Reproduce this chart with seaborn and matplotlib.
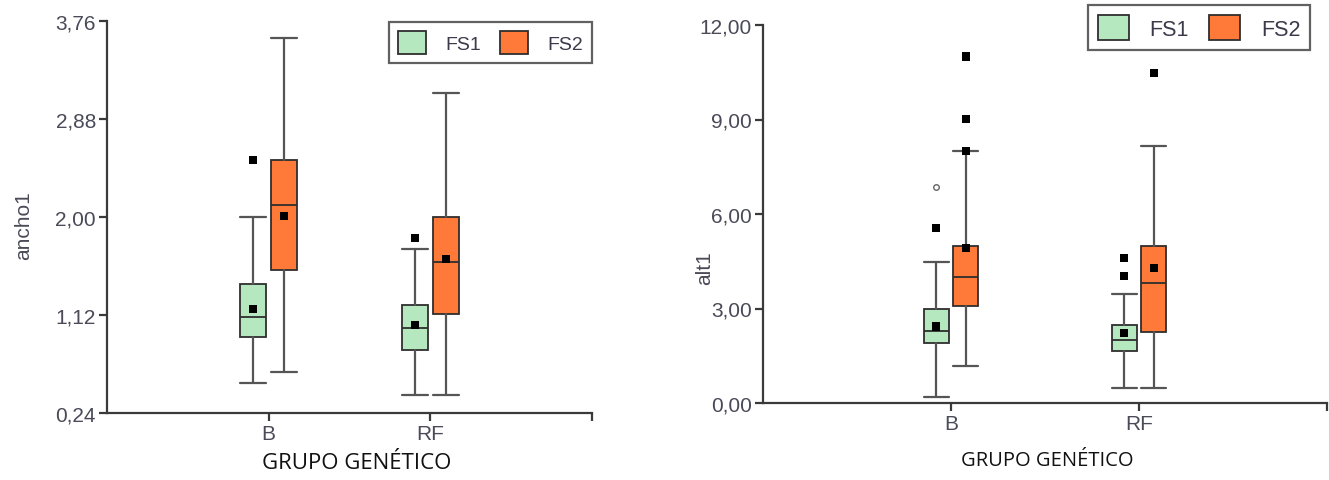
import matplotlib
matplotlib.use("Agg")
import matplotlib.pyplot as plt
from matplotlib.patches import Patch
from matplotlib.ticker import FuncFormatter
import seaborn as sns
import pandas as pd

# ---------------- data ----------------
groups = ["B", "RF"]
series = ["FS1", "FS2"]

ancho1_lo = {"FS1": [0.51, 0.40], "FS2": [0.61, 0.40]}
ancho1_q1 = {"FS1": [0.92, 0.81], "FS2": [1.52, 1.13]}
ancho1_med = {"FS1": [1.10, 1.00], "FS2": [2.11, 1.60]}
ancho1_q3 = {"FS1": [1.40, 1.21], "FS2": [2.51, 2.00]}
ancho1_hi = {"FS1": [2.00, 1.71], "FS2": [3.61, 3.11]}
ancho1_mean = {"FS1": [1.17, 1.03], "FS2": [2.01, 1.62]}
ancho1_out = {"FS1": [[2.51], [1.81]], "FS2": [[], []]}
ancho1_far = {"FS1": [[], []], "FS2": [[], []]}
ancho1_ticks = [0.24, 1.12, 2.00, 2.88, 3.76]

alt1_lo = {"FS1": [0.18, 0.48], "FS2": [1.18, 0.48]}
alt1_q1 = {"FS1": [1.89, 1.65], "FS2": [3.07, 2.24]}
alt1_med = {"FS1": [2.30, 2.00], "FS2": [4.01, 3.82]}
alt1_q3 = {"FS1": [2.99, 2.48], "FS2": [4.99, 4.99]}
alt1_hi = {"FS1": [4.47, 3.47], "FS2": [8.00, 8.17]}
alt1_mean = {"FS1": [2.43, 2.21], "FS2": [4.91, 4.28]}
alt1_out = {"FS1": [[5.56], [4.61, 4.03]], "FS2": [[11.00, 9.02, 8.00], [10.48]]}
alt1_far = {"FS1": [[6.85], []], "FS2": [[], []]}
alt1_ticks = [0.0, 3.0, 6.0, 9.0, 12.0]

colors = {"FS1": "#B6E8BF", "FS2": "#FF7A38"}
edge = "#2e2e2e"
tick_color = "#4a4a58"

sns.set_style("white")
plt.rcParams["font.family"] = ["Liberation Sans", "DejaVu Sans"]

fig = plt.figure(figsize=(13.29, 4.81), dpi=100)
axL = fig.add_axes([107 / 1329, 67 / 481, 485 / 1329, 392 / 481])
axR = fig.add_axes([763 / 1329, 77 / 481, 564 / 1329, 378 / 481])


def draw_panel(ax, lo, q1, med, q3, hi, mean, out, far, offset, width):
    stats, pos, cols = [], [], []
    mean_rows, out_rows, far_rows = [], [], []
    for si, s in enumerate(series):
        sign = -1 if si == 0 else 1
        for gi, g in enumerate(groups):
            x = gi + sign * offset
            stats.append(dict(whislo=lo[s][gi], q1=q1[s][gi], med=med[s][gi],
                              q3=q3[s][gi], whishi=hi[s][gi], fliers=[]))
            pos.append(x)
            cols.append(colors[s])
            mean_rows.append({"x": x, "y": mean[s][gi]})
            for v in out[s][gi]:
                out_rows.append({"x": x, "y": v})
            for v in far[s][gi]:
                far_rows.append({"x": x, "y": v})
    bp = ax.bxp(stats, positions=pos, widths=width, patch_artist=True,
                showfliers=False, manage_ticks=False,
                boxprops=dict(edgecolor=edge, linewidth=1.3),
                medianprops=dict(color=edge, linewidth=1.3),
                whiskerprops=dict(color="#555555", linewidth=1.6),
                capprops=dict(color="#555555", linewidth=1.6),
                capwidths=width)
    for patch, c in zip(bp["boxes"], cols):
        patch.set_facecolor(c)
    sns.scatterplot(data=pd.DataFrame(mean_rows), x="x", y="y", ax=ax,
                    marker="s", s=34, color="black", edgecolor="none", zorder=5)
    if out_rows:
        sns.scatterplot(data=pd.DataFrame(out_rows), x="x", y="y", ax=ax,
                        marker="s", s=34, color="black", edgecolor="none", zorder=5)
    if far_rows:
        sns.scatterplot(data=pd.DataFrame(far_rows), x="x", y="y", ax=ax,
                        marker="o", s=16, facecolor="white", edgecolor="#666666",
                        linewidth=1.0, zorder=5)


draw_panel(axL, ancho1_lo, ancho1_q1, ancho1_med, ancho1_q3, ancho1_hi,
           ancho1_mean, ancho1_out, ancho1_far, offset=0.095, width=0.161)
draw_panel(axR, alt1_lo, alt1_q1, alt1_med, alt1_q3, alt1_hi,
           alt1_mean, alt1_out, alt1_far, offset=0.078, width=0.132)

fmt = FuncFormatter(lambda v, p: f"{v:.2f}".replace(".", ","))
for ax, ticks, label in [(axL, ancho1_ticks, "ancho1"), (axR, alt1_ticks, "alt1")]:
    ax.set_xlim(-1, 2)
    ax.set_ylim(ticks[0], ticks[-1])
    ax.set_yticks(ticks)
    ax.yaxis.set_major_formatter(fmt)
    ax.set_xticks([0, 1, 2])
    ax.set_xticklabels(groups + [""])
    for side in ["top", "right"]:
        ax.spines[side].set_visible(False)
    for side in ["left", "bottom"]:
        ax.spines[side].set_color("#3a3a3a")
        ax.spines[side].set_linewidth(1.6)
    ax.tick_params(axis="both", which="major", direction="out", length=6,
                   width=1.6, color="#3a3a3a", labelsize=15, labelcolor=tick_color,
                   left=True, bottom=True, pad=2)
    ax.set_ylabel(label, fontsize=15, color=tick_color)
    ax.set_facecolor("white")

axL.set_xlabel("GRUPO GENÉTICO", fontsize=16, family=["Open Sans", "DejaVu Sans"],
               color="#111111")
axR.set_xlabel("GRUPO GENÉTICO", fontsize=14.5, family=["Open Sans", "DejaVu Sans"],
               color="#111111")
axL.xaxis.set_label_coords(0.5150, -0.10)
axR.xaxis.set_label_coords(0.5035, -0.125)
axL.yaxis.set_label_coords(-0.152, 0.48)
axR.yaxis.set_label_coords(-0.087, 0.36)

handles = [Patch(facecolor=colors[s], edgecolor=edge, linewidth=1.3, label=s) for s in series]
legend_specs = [
    dict(anchor=(592 / 1329, 458 / 481), fs=14, pad=1.0, col=0.95),
    dict(anchor=(1310 / 1329, 475 / 481), fs=15.5, pad=0.95, col=0.95),
]
for spec in legend_specs:
    leg = fig.legend(handles=handles, loc="upper right", bbox_to_anchor=spec["anchor"],
                     bbox_transform=fig.transFigure, ncol=2, frameon=True,
                     fancybox=False, fontsize=spec["fs"], handlelength=1.45,
                     handleheight=1.45, handletextpad=spec["pad"],
                     columnspacing=spec["col"], borderpad=0.45, borderaxespad=0)
    leg.get_frame().set_edgecolor("#3a3a3a")
    leg.get_frame().set_linewidth(1.6)
    for t in leg.get_texts():
        t.set_color("#3a3a4a")

fig.savefig("out.png", dpi=100, facecolor="white")
